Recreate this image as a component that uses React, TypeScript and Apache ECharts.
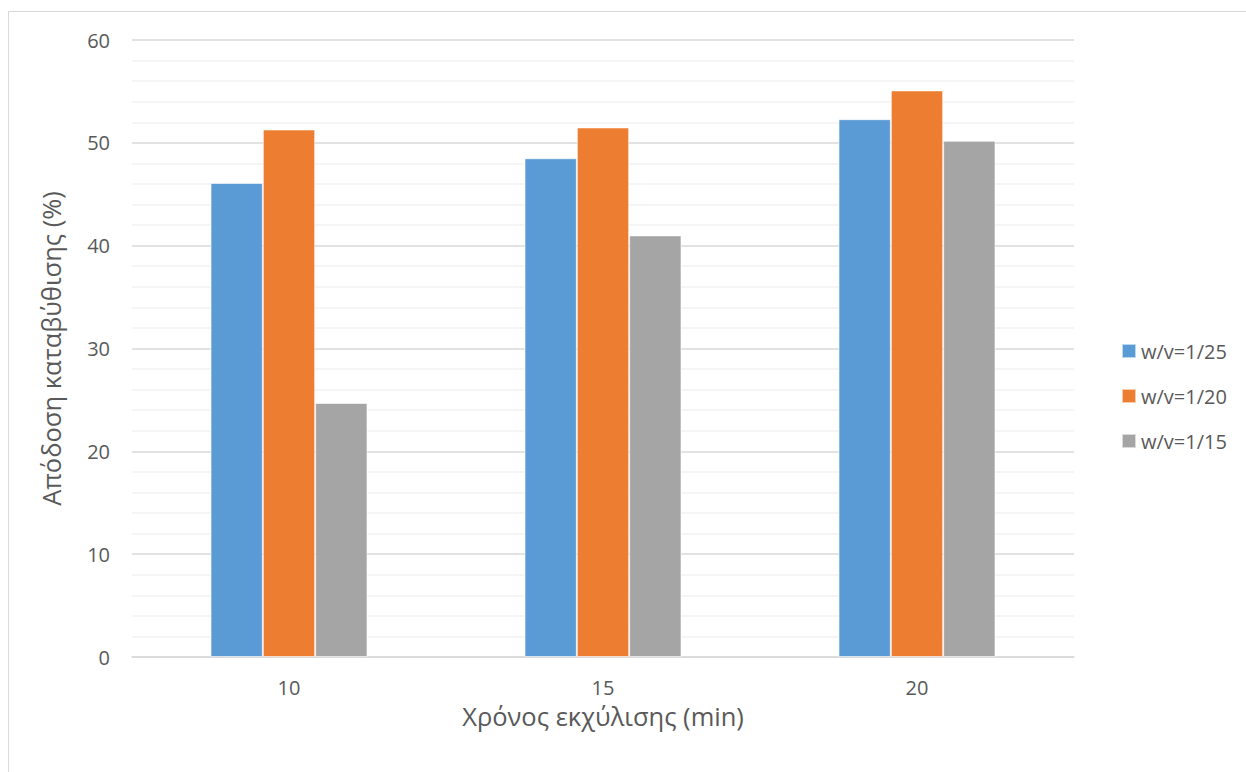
import React, { useEffect, useRef } from "react";
import * as echarts from "echarts";

// Extraction time (min) on the x axis
const categories = ["10", "15", "20"];

// Precipitation yield (%) for each solid/solvent ratio
const seriesNames = ["w/v=1/25", "w/v=1/20", "w/v=1/15"];
const yieldRatio25 = [46.1, 48.5, 52.3];
const yieldRatio20 = [51.3, 51.5, 55.1];
const yieldRatio15 = [24.7, 41.0, 50.2];

const colors = ["#5B9BD5", "#ED7D31", "#A5A5A5"];

const FONT = "'Open Sans', 'Liberation Sans', sans-serif";
const TEXT_COLOR = "#595959";

export default function App() {
  const ref = useRef<HTMLDivElement>(null);

  useEffect(() => {
    if (!ref.current) return;
    const chart = echarts.init(ref.current, null, { renderer: "svg" });
    const values = [yieldRatio25, yieldRatio20, yieldRatio15];

    chart.setOption({
      animation: false,
      backgroundColor: "#ffffff",
      textStyle: { fontFamily: FONT },
      graphic: [
        {
          type: "rect",
          shape: { x: 8.5, y: 11.5, width: 1400, height: 1000 },
          style: { fill: "none", stroke: "#d9d9d9", lineWidth: 1 },
          silent: true,
          z: -1,
        },
      ],
      grid: { left: 132, top: 40, width: 942, height: 617, containLabel: false },
      legend: {
        orient: "vertical",
        left: 1116,
        top: 336,
        icon: "rect",
        itemWidth: 14,
        itemHeight: 14,
        itemGap: 25,
        data: seriesNames,
        textStyle: { color: TEXT_COLOR, fontSize: 20, fontFamily: FONT, lineHeight: 20 },
      },
      xAxis: {
        type: "category",
        data: categories,
        name: "Χρόνος εκχύλισης (min)",
        nameLocation: "middle",
        nameGap: 46,
        nameTextStyle: { color: TEXT_COLOR, fontSize: 25.5, fontFamily: FONT },
        axisLine: { lineStyle: { color: "#d9d9d9", width: 1.5 } },
        axisTick: { show: false },
        axisLabel: { color: TEXT_COLOR, fontSize: 20, margin: 20, fontFamily: FONT },
      },
      yAxis: {
        type: "value",
        min: 0,
        max: 60,
        interval: 10,
        name: "Απόδοση καταβύθισης (%)",
        nameLocation: "middle",
        nameGap: 68,
        nameTextStyle: { color: TEXT_COLOR, fontSize: 25.5, fontFamily: FONT },
        axisLine: { show: false },
        axisTick: { show: false },
        axisLabel: { color: TEXT_COLOR, fontSize: 20, margin: 22, fontFamily: FONT },
        splitLine: { lineStyle: { color: "#d9d9d9", width: 1.5 } },
        minorTick: { show: false, splitNumber: 5 },
        minorSplitLine: { show: true, lineStyle: { color: "#f2f2f2", width: 1.5 } },
      },
      series: seriesNames.map((name, i) => ({
        name,
        type: "bar",
        data: values[i],
        barGap: "0%",
        barCategoryGap: "50%",
        itemStyle: {
          color: colors[i],
          borderColor: "rgba(255,255,255,0.6)",
          borderWidth: 1,
        },
      })),
    });

    return () => chart.dispose();
  }, []);

  return (
    <div
      ref={ref}
      style={{ position: "fixed", left: 0, top: 0, width: 1246, height: 772 }}
    />
  );
}
